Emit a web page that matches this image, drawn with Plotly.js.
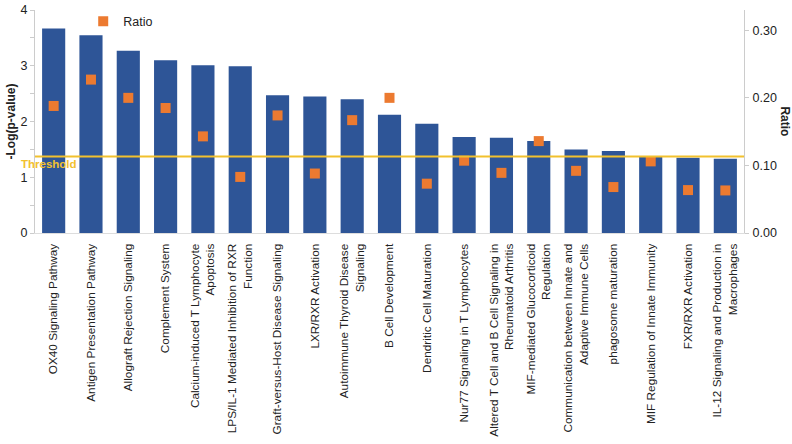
<!DOCTYPE html>
<html>
<head>
<meta charset="utf-8">
<script src="https://cdn.plot.ly/plotly-3.0.1.min.js"></script>
<style>html,body{margin:0;padding:0;background:#fff;}#chart{width:792px;height:444px;}</style>
</head>
<body>
<div id="chart"></div>
<script>
var categories = [
  "OX40 Signaling Pathway",
  "Antigen Presentation Pathway",
  "Allograft Rejection Signaling",
  "Complement System",
  "Calcium-induced T Lymphocyte<br>Apoptosis",
  "LPS/IL-1 Mediated Inhibition of RXR<br>Function",
  "Graft-versus-Host Disease Signaling",
  "LXR/RXR Activation",
  "Autoimmune Thyroid Disease<br>Signaling",
  "B Cell Development",
  "Dendritic Cell Maturation",
  "Nur77 Signaling in T Lymphocytes",
  "Altered T Cell and B Cell Signaling in<br>Rheumatoid Arthritis",
  "MIF-mediated Glucocorticoid<br>Regulation",
  "Communication between Innate and<br>Adaptive Immune Cells",
  "phagosome maturation",
  "MIF Regulation of Innate Immunity",
  "FXR/RXR Activation",
  "IL-12 Signaling and Production in<br>Macrophages"
];
var logP = [3.67, 3.545, 3.27, 3.10, 3.01, 2.99, 2.47, 2.45, 2.40, 2.12, 1.96, 1.72, 1.71, 1.65, 1.50, 1.47, 1.38, 1.35, 1.33];
var ratio = [0.188, 0.227, 0.200, 0.185, 0.143, 0.083, 0.174, 0.088, 0.167, 0.200, 0.073, 0.107, 0.089, 0.136, 0.092, 0.068, 0.106, 0.0635, 0.063];
var threshold = 1.37;

var traces = [
  {
    type: "bar", x: categories, y: logP, name: "-Log(p-value)",
    marker: {color: "#2E5597"}, showlegend: false, yaxis: "y"
  },
  {
    type: "scatter", mode: "markers", x: categories, y: ratio, name: "Ratio",
    marker: {symbol: "square", size: 10, color: "#EC7A30"}, yaxis: "y2"
  }
];

var fontFam = "Liberation Sans, Arial, sans-serif";
var layout = {
  width: 792, height: 444,
  margin: {l: 35, r: 48, t: 7, b: 211},
  paper_bgcolor: "#fff", plot_bgcolor: "#fff",
  font: {family: fontFam, size: 12, color: "#222"},
  bargap: 0.38,
  showlegend: true,
  legend: {x: 0.068, y: 1.015, xanchor: "left", yanchor: "top", bgcolor: "rgba(0,0,0,0)",
           font: {size: 12.5, color: "#222"}, itemwidth: 30},
  xaxis: {
    type: "category", tickangle: -90, showline: true, linecolor: "#ddd", linewidth: 1, ticks: "",
    ticklabelstandoff: 5,
    tickfont: {size: 11.8, color: "#222"}, range: [-0.5, 18.5]
  },
  yaxis: {
    range: [0, 4], dtick: 1, showgrid: false, zeroline: false,
    showline: true, linecolor: "#ccc", linewidth: 1,
    ticks: "outside", ticklen: 4, tickcolor: "#ccc",
    minor: {dtick: 0.5, ticks: "outside", ticklen: 4, tickcolor: "#ccc"},
    tickfont: {size: 12.5, color: "#222"},
    title: {text: "<b>-Log(p-value)</b>", font: {size: 12, color: "#222"}, standoff: 2}
  },
  yaxis2: {
    overlaying: "y", side: "right", range: [0, 0.33], dtick: 0.1, tickformat: ".2f",
    showgrid: false, zeroline: false,
    showline: true, linecolor: "#ccc", linewidth: 1,
    ticks: "outside", ticklen: 4, tickcolor: "#ccc", ticklabelstandoff: 1,
    tickfont: {size: 12.5, color: "#222"}
  },
  shapes: [
    {type: "line", xref: "paper", x0: 0, x1: 1, yref: "y", y0: threshold, y1: threshold,
     line: {color: "#F2C12E", width: 2}}
  ],
  annotations: [
    {text: "<b>Threshold</b>", xref: "paper", x: -0.023, xanchor: "left", yref: "y", y: threshold,
     yanchor: "top", yshift: 1, showarrow: false, font: {size: 11.5, color: "#F2C12E"}},
    {text: "<b>Ratio</b>", xref: "paper", x: 1.058, xanchor: "center", yref: "paper", y: 0.5,
     yanchor: "middle", textangle: 90, showarrow: false, font: {size: 12, color: "#222"}}
  ]
};

Plotly.newPlot("chart", traces, layout, {displayModeBar: false, staticPlot: true});
</script>
</body>
</html>
